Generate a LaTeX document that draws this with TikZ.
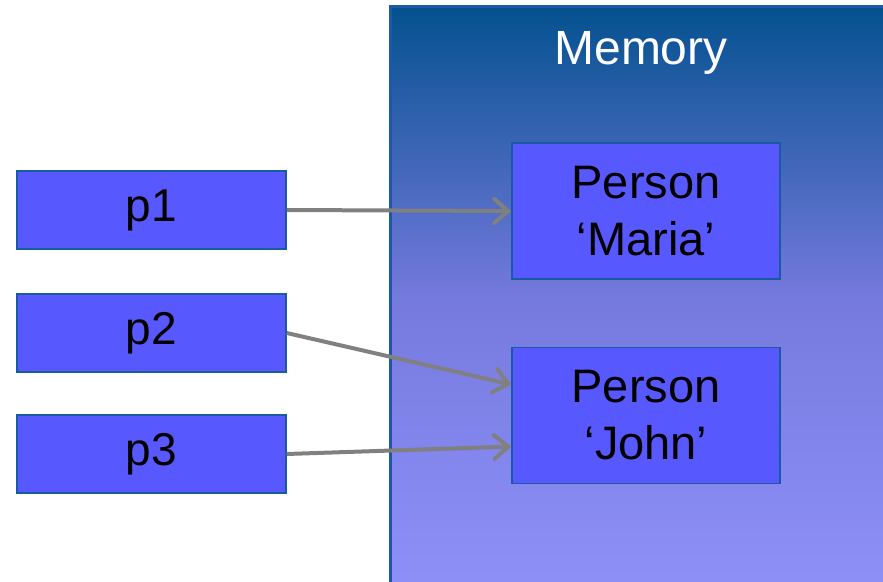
\documentclass[tikz,border=0pt]{standalone}
\usepackage{fontspec}
\setmainfont{Liberation Sans}
\usetikzlibrary{arrows.meta}

\definecolor{boxblue}{RGB}{88,88,255}
\definecolor{edgeblue}{RGB}{25,90,160}
\definecolor{memtop}{RGB}{4,81,143}
\definecolor{memmid}{RGB}{118,122,222}
\definecolor{membot}{RGB}{142,144,248}
\definecolor{pointergray}{RGB}{128,128,128}

\begin{document}
\begin{tikzpicture}[x = 1pt, y = -1pt,
    varbox/.style = {draw = edgeblue, line width = 1.5pt, fill = boxblue, minimum width = 269pt, minimum height = 78pt, inner sep = 0pt, font = \fontsize{46}{57}\selectfont},
    objbox/.style = {draw = edgeblue, line width = 1.5pt, fill = boxblue, minimum width = 268pt, minimum height = 136pt, inner sep = 0pt, align = center, font = \fontsize{47}{57}\selectfont},
    pointer/.style = {draw = pointergray, line width = 4pt, -{Straight Barb[length = 14pt, width = 24pt, line cap = round]}}]
    \useasboundingbox (0, 0) rectangle (883, 581);

    % memory panel
    \begin{scope}
        \clip (0, 0) rectangle (883, 581);
        \shade [top color = memtop, bottom color = memmid] (390, 6) rectangle (900, 300);
        \shade [top color = memmid, bottom color = membot] (390, 299) rectangle (900, 590);
        \draw [edgeblue, line width = 3pt] (900, 6) -- (390, 6) -- (390, 590);
    \end{scope}
    \node [white, font = \fontsize{48}{56}\selectfont, anchor = base] (memory) at (641, 64) {Memory};

    %%%%%%%%%%%%%%%%%%%%
    \node [varbox] (p1) at (151.5, 210) {p1};
    \node [varbox] (p2) at (151.5, 333) {p2};
    \node [varbox] (p3) at (151.5, 454) {p3};

    \node [objbox] (maria) at (646, 211) {Person\\‘Maria’};
    \node [objbox] (john) at (646, 415.5) {Person\\‘John’};

    \draw [pointer] (p1.east) -- (maria.west);
    \draw [pointer] (p2.east) -- ([yshift = 31pt]john.west);
    \draw [pointer] (p3.east) -- ([yshift = -31pt]john.west);
\end{tikzpicture}
\end{document}
